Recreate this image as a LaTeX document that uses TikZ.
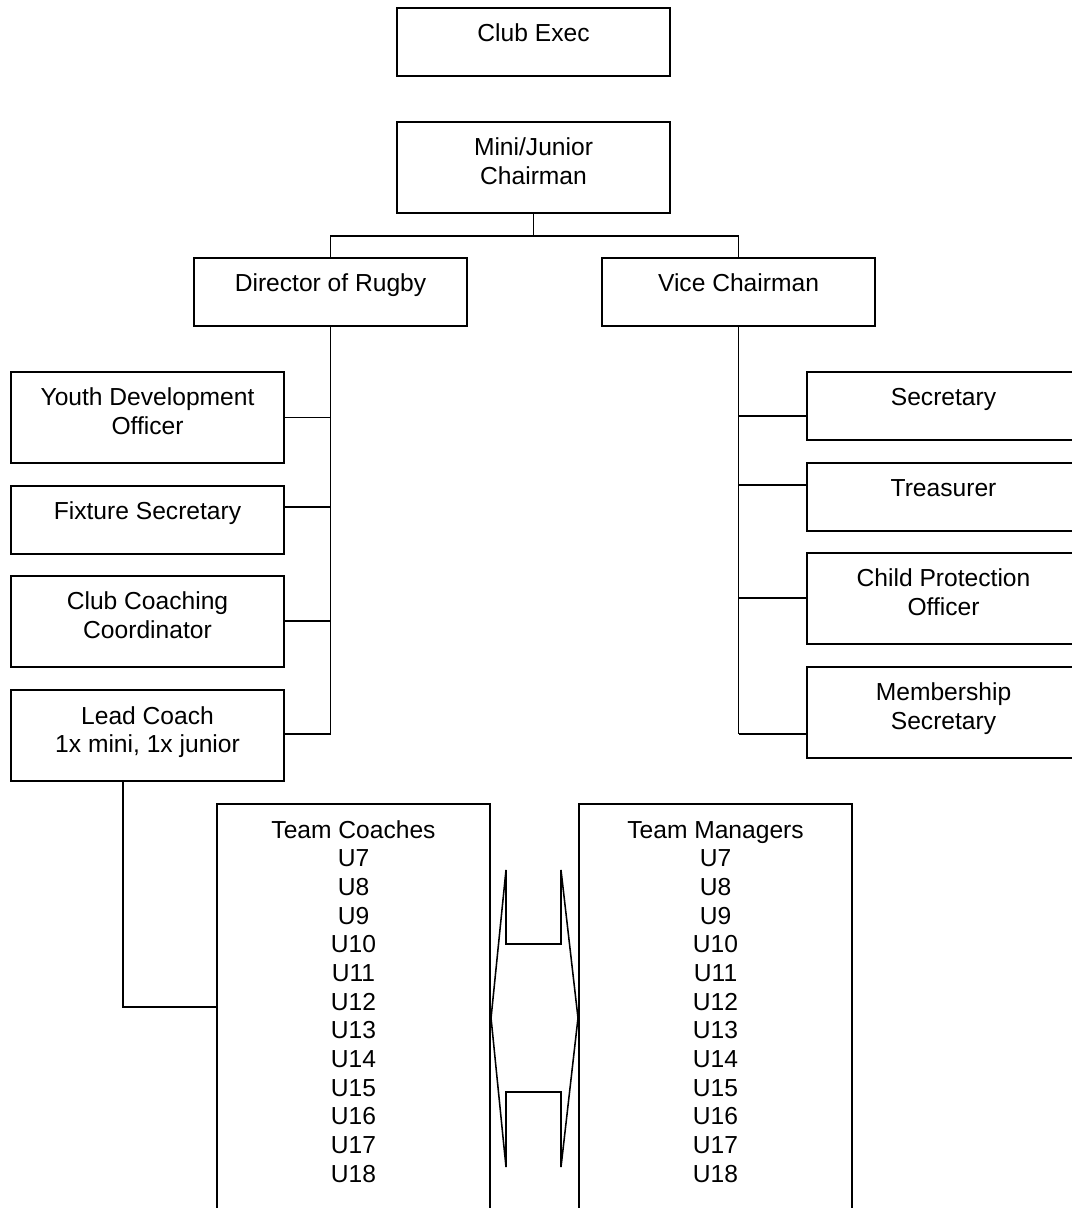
\documentclass[tikz,border=0pt]{standalone}
\usepackage{fontspec}
\setmainfont{Liberation Sans}
\usetikzlibrary{positioning}

\newcommand{\boxlines}[1]{\begin{tabular}[t]{@{}c@{}}#1\end{tabular}}

\begin{document}
\begin{tikzpicture}[
    x=0.025cm, y=-0.025cm,
    box/.style={draw, line width=1.4pt, anchor=north west, inner sep=0pt,
        minimum width=6.825cm, text height=0.85cm, text depth=#1,
        font=\fontsize{17.5}{20.4}\selectfont},
    short/.style={box=0.85cm},
    tall/.style={box=1.425cm},
    team/.style={box=9.65cm},
    link/.style={line width=1.1pt}
]
\useasboundingbox (0,0) rectangle (1071,1208);

% Top of the tree
\node[short] (exec) at (396,7) {\boxlines{Club Exec}};
\node[tall] (chair) at (396,121) {\boxlines{Mini/Junior\\Chairman}};
\node[short] (dor) at (193,257) {\boxlines{Director of Rugby}};
\node[short] (vice) at (601,257) {\boxlines{Vice Chairman}};

% Rugby side
\node[tall] (youth) at (10,371) {\boxlines{Youth Development\\Officer}};
\node[short] (fix) at (10,485) {\boxlines{Fixture Secretary}};
\node[tall] (coachco) at (10,575) {\boxlines{Club Coaching\\Coordinator}};
\node[tall] (lead) at (10,689) {\boxlines{Lead Coach\\1x mini, 1x junior}};

% Admin side
\node[short] (sec) at (806,371) {\boxlines{Secretary}};
\node[short] (treas) at (806,462) {\boxlines{Treasurer}};
\node[tall] (cpo) at (806,552) {\boxlines{Child Protection\\Officer}};
\node[tall] (member) at (806,666) {\boxlines{Membership\\Secretary}};

% Teams
\node[team] (coaches) at (216,803) {\boxlines{Team Coaches\\U7\\U8\\U9\\U10\\U11\\U12\\U13\\U14\\U15\\U16\\U17\\U18}};
\node[team] (managers) at (578,803) {\boxlines{Team Managers\\U7\\U8\\U9\\U10\\U11\\U12\\U13\\U14\\U15\\U16\\U17\\U18}};

% Edges
\draw[link] (chair.south) -- ++(0,22) -| (dor.north);
\draw[link] (chair.south) -- ++(0,22) -| (vice.north);

\draw[link] (dor.south) -- (dor.south |- 0,734);
\draw[link] (youth.east) -- (youth.east -| dor.south);
\draw[link] (fix.east |- 0,507) -- (dor.south |- 0,507);
\draw[link] (coachco.east |- 0,621) -- (dor.south |- 0,621);
\draw[link] (lead.east |- 0,734) -- (dor.south |- 0,734);

\draw[link] (vice.south) -- (vice.south |- 0,734);
\draw[link] (sec.west |- 0,416) -- (vice.south |- 0,416);
\draw[link] (treas.west |- 0,485) -- (vice.south |- 0,485);
\draw[link] (cpo.west |- 0,598) -- (vice.south |- 0,598);
\draw[link] (member.west |- 0,734) -- (vice.south |- 0,734);

\draw[link] (lead.south -| 123,0) |- (coaches.west |- 0,1007);

% Double arrow between coaches and managers
\draw[link] (coaches.east |- 0,1018) -- (506,870) -- (506,944) -- (561,944)
    -- (561,870) -- (managers.west |- 0,1018) -- (561,1167) -- (561,1092)
    -- (506,1092) -- (506,1167) -- cycle;

\end{tikzpicture}
\end{document}
